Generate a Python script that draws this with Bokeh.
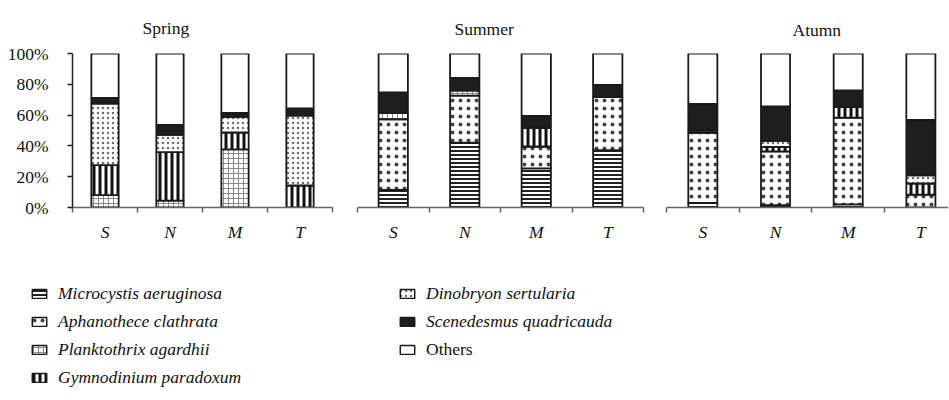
from bokeh.plotting import figure
from bokeh.layouts import row, column
from bokeh.models import (Range1d, FixedTicker, PrintfTickFormatter, Legend,
                          LegendItem, ColumnDataSource)
from bokeh.embed import file_html
from bokeh.resources import INLINE

# ---------------- data ----------------
sites = ["S", "N", "M", "T"]
seasons = ["Spring", "Summer", "Atumn"]
species = ["Microcystis aeruginosa", "Aphanothece clathrata", "Planktothrix agardhii",
           "Gymnodinium paradoxum", "Dinobryon sertularia", "Scenedesmus quadricauda", "Others"]
y_ticks = [0, 20, 40, 60, 80, 100]

spring_microcystis = [0, 0, 0, 0]
spring_aphanothece = [0, 0, 0, 0]
spring_planktothrix = [8.0, 4.5, 37.7, 0]
spring_gymnodinium = [19.5, 31.5, 11.0, 14.3]
spring_dinobryon = [40.0, 11.2, 10.2, 45.3]
spring_scenedesmus = [3.6, 6.4, 2.6, 4.7]
spring_others = [28.9, 46.4, 38.5, 35.7]

summer_microcystis = [11.5, 42.1, 25.4, 37.3]
summer_aphanothece = [45.8, 30.6, 14.2, 34.4]
summer_planktothrix = [4.2, 3.3, 0, 0]
summer_gymnodinium = [0, 0, 11.9, 0]
summer_dinobryon = [0, 0, 0, 0]
summer_scenedesmus = [13.3, 8.2, 7.9, 7.9]
summer_others = [25.2, 15.8, 40.6, 20.4]

autumn_microcystis = [3.0, 1.5, 2.0, 0]
autumn_aphanothece = [45.5, 35.0, 56.3, 8.3]
autumn_planktothrix = [1.5, 0, 0, 0]
autumn_gymnodinium = [0, 2.9, 6.9, 7.3]
autumn_dinobryon = [0, 3.9, 0, 5.2]
autumn_scenedesmus = [17.3, 22.3, 10.8, 36.1]
autumn_others = [32.7, 34.4, 24.0, 43.1]

season_data = [
    [spring_microcystis, spring_aphanothece, spring_planktothrix, spring_gymnodinium,
     spring_dinobryon, spring_scenedesmus, spring_others],
    [summer_microcystis, summer_aphanothece, summer_planktothrix, summer_gymnodinium,
     summer_dinobryon, summer_scenedesmus, summer_others],
    [autumn_microcystis, autumn_aphanothece, autumn_planktothrix, autumn_gymnodinium,
     autumn_dinobryon, autumn_scenedesmus, autumn_others],
]

# ---------------- styles ----------------
keys = ["micro", "aphan", "plank", "gymno", "dino", "scen", "others"]
fill_colors = ["#ffffff", "#ffffff", "#ffffff", "#ffffff", "#ffffff", "#1e1e1e", "#ffffff"]
hatch_patterns = ["-", ".", "+", "|", ".", " ", " "]
hatch_colors = ["#222222", "#444444", "#8a8a8a", "#111111", "#6e6e6e", "#1e1e1e", "#ffffff"]
hatch_scales = [4, 8, 5, 6, 5, 6, 6]
hatch_weights = [2, 1, 1, 3, 1, 1, 1]

SERIF = "Liberation Serif"
FS = "17.5px"

# panel geometry: width, border left/right/top/bottom, x_end, bar width, title offset, title standoff
panels = [
    dict(w=344, bl=72, br=12, bt=51, bb=43, xend=4.0, bw=0.42, toff=70, tst=31),
    dict(w=311, bl=13, br=12, bt=49, bb=41, xend=4.0, bw=0.41, toff=97, tst=29),
    dict(w=293, bl=11, br=0, bt=47, bb=43, xend=3.88, bw=0.40, toff=126, tst=27),
]

centers = [i + 0.5 for i in range(len(sites))]
bounds = [i for i in range(len(sites) + 1)]

figs = []
for k, (season, vals, g) in enumerate(zip(seasons, season_data, panels)):
    p = figure(width=g["w"], height=250, output_backend="svg", toolbar_location=None,
               x_range=Range1d(0, g["xend"]), y_range=Range1d(0, 100),
               min_border_left=g["bl"], min_border_right=g["br"], min_border_top=g["bt"],
               min_border_bottom=g["bb"], title=season,
               y_axis_location=("left" if k == 0 else None))
    p.outline_line_color = None
    p.xgrid.visible = False
    p.ygrid.visible = False
    p.title.align = "left"
    p.title.offset = g["toff"]
    p.title.standoff = g["tst"]
    p.title.text_font = SERIF
    p.title.text_font_style = "normal"
    p.title.text_font_size = FS
    p.title.text_color = "#111111"

    data = {"x": centers}
    for key, v in zip(keys, vals):
        data[key] = v
    src = ColumnDataSource(data)
    p.vbar_stack(keys, x="x", width=g["bw"], source=src,
                 fill_color=fill_colors, hatch_pattern=hatch_patterns,
                 hatch_color=hatch_colors, hatch_scale=hatch_scales,
                 hatch_weight=hatch_weights, line_color="#1a1a1a", line_width=1.8)

    xa = p.xaxis[0]
    xa.ticker = FixedTicker(ticks=centers, minor_ticks=bounds)
    xa.major_label_overrides = {c: s for c, s in zip(centers, sites)}
    xa.major_tick_out = 0
    xa.major_tick_in = 0
    xa.minor_tick_out = 5
    xa.minor_tick_in = 0
    xa.axis_line_color = "#666666"
    xa.axis_line_width = 1.5
    xa.minor_tick_line_color = "#666666"
    xa.minor_tick_line_width = 1.5
    xa.major_label_standoff = 9
    xa.major_label_text_font = SERIF
    xa.major_label_text_font_style = "italic"
    xa.major_label_text_font_size = FS
    xa.major_label_text_color = "#111111"

    if k == 0:
        ya = p.yaxis[0]
        ya.ticker = FixedTicker(ticks=y_ticks)
        ya.formatter = PrintfTickFormatter(format="%d%%")
        ya.major_tick_out = 5
        ya.major_tick_in = 0
        ya.minor_tick_out = 0
        ya.minor_tick_in = 0
        ya.axis_line_color = "#222222"
        ya.axis_line_width = 1.5
        ya.major_tick_line_color = "#222222"
        ya.major_tick_line_width = 1.5
        ya.major_label_standoff = 19
        ya.major_label_text_font = SERIF
        ya.major_label_text_font_size = FS
        ya.major_label_text_color = "#111111"
    figs.append(p)

# ---------------- legend figure ----------------
pl = figure(width=948, height=142, output_backend="svg", toolbar_location=None,
            x_range=Range1d(0, 1), y_range=Range1d(0, 1),
            x_axis_location=None, y_axis_location=None,
            min_border_left=0, min_border_right=0, min_border_top=0, min_border_bottom=0)
pl.outline_line_color = None
pl.xgrid.visible = False
pl.ygrid.visible = False

# legend swatches: one zero-size bar per species (nothing visible is drawn for it)
rends = []
for i in range(len(species)):
    r = pl.vbar(x=[0.5], top=[0.5], bottom=[0.5], width=0, fill_color=fill_colors[i],
                hatch_pattern=hatch_patterns[i], hatch_color=hatch_colors[i],
                hatch_scale=hatch_scales[i], hatch_weight=hatch_weights[i],
                line_color="#1a1a1a", line_width=1.5)
    rends.append(r)


def make_legend(idx, loc, style):
    lg = Legend(items=[LegendItem(label=species[i], renderers=[rends[i]]) for i in idx],
                location=loc, orientation="vertical", padding=0, margin=0,
                spacing=7, label_height=18, glyph_height=11, glyph_width=18,
                label_standoff=10, border_line_color=None, background_fill_alpha=0,
                label_text_font=SERIF, label_text_font_style=style,
                label_text_font_size=FS, label_text_color="#111111")
    pl.add_layout(lg)


make_legend([0, 1, 2, 3], (30, 4), "italic")
make_legend([4, 5], (398, 60), "italic")
make_legend([6], (398, 32), "normal")

layout = column(row(*figs), pl)

open("out.html", "w").write(file_html(layout, INLINE))
